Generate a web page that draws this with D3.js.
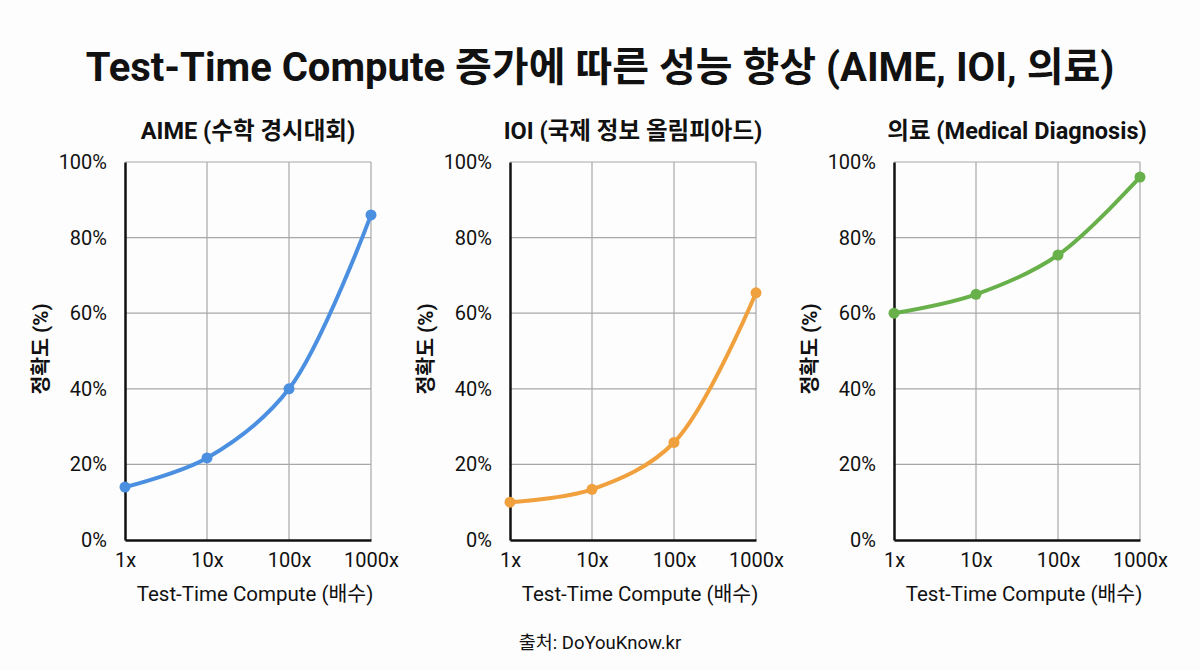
<!DOCTYPE html>
<html>
<head>
<meta charset="utf-8">
<script src="https://cdn.jsdelivr.net/npm/d3@7"></script>
<style>
  body { margin: 0; background: #fdfdfd; }
  svg { display: block; font-family: Roboto, "Noto Sans CJK KR", sans-serif; }
</style>
</head>
<body>
<div id="chart"></div>
<script>
const computeLevels = ['1x', '10x', '100x', '1000x'];
const yTicks = [0, 20, 40, 60, 80, 100];

const panelTitles = ['AIME (수학 경시대회)', 'IOI (국제 정보 올림피아드)', '의료 (Medical Diagnosis)'];
const aimeValues = [14, 21.7, 40, 86];
const ioiValues = [10, 13.4, 25.8, 65.4];
const medicalValues = [60, 65, 75.4, 96];
const seriesColors = ['#4a8fe0', '#f0a03c', '#68b04a'];

const W = 1200, H = 670;
const panelLeft = [125, 510, 894];
const panelWidth = 246;
const plotTop = 162, plotBottom = 540;

const svg = d3.select('#chart').append('svg')
  .attr('width', W)
  .attr('height', H);

svg.append('rect').attr('width', W).attr('height', H).attr('fill', '#fdfdfd');

svg.append('text')
  .attr('x', W / 2)
  .attr('y', 81)
  .attr('text-anchor', 'middle')
  .attr('font-size', 40)
  .attr('font-weight', 'bold')
  .attr('fill', '#111')
  .text('Test-Time Compute 증가에 따른 성능 향상 (AIME, IOI, 의료)');

const y = d3.scaleLinear().domain([0, 100]).range([plotBottom, plotTop]);

const allValues = [aimeValues, ioiValues, medicalValues];

allValues.forEach((values, i) => {
  const x = d3.scalePoint()
    .domain(computeLevels)
    .range([panelLeft[i], panelLeft[i] + panelWidth]);

  const g = svg.append('g');

  // grid
  g.selectAll('.hgrid')
    .data(yTicks.slice(1))
    .enter().append('line')
    .attr('x1', panelLeft[i])
    .attr('x2', panelLeft[i] + panelWidth)
    .attr('y1', d => y(d))
    .attr('y2', d => y(d))
    .attr('stroke', '#a8a8a8')
    .attr('stroke-width', 1.2);

  g.selectAll('.vgrid')
    .data(computeLevels.slice(1))
    .enter().append('line')
    .attr('x1', d => x(d))
    .attr('x2', d => x(d))
    .attr('y1', plotTop)
    .attr('y2', plotBottom)
    .attr('stroke', '#a8a8a8')
    .attr('stroke-width', 1.2);

  // axes
  const yAxis = g.append('g')
    .attr('transform', `translate(${panelLeft[i]},0)`)
    .call(d3.axisLeft(y).tickValues(yTicks).tickSize(0).tickPadding(18).tickFormat(d => d + '%'));
  yAxis.select('.domain').attr('stroke', '#111').attr('stroke-width', 2.5);
  yAxis.selectAll('text').attr('font-size', 20).attr('fill', '#111').attr('font-family', 'Roboto, sans-serif');

  const xAxis = g.append('g')
    .attr('transform', `translate(0,${plotBottom})`)
    .call(d3.axisBottom(x).tickSize(0).tickPadding(13));
  xAxis.select('.domain').attr('stroke', '#111').attr('stroke-width', 2.5);
  xAxis.selectAll('text').attr('font-size', 20).attr('fill', '#111').attr('font-family', 'Roboto, sans-serif');

  // labels
  const cx = panelLeft[i] + panelWidth / 2;
  g.append('text')
    .attr('x', cx)
    .attr('y', 139)
    .attr('text-anchor', 'middle')
    .attr('font-size', 23.5)
    .attr('font-weight', 'bold')
    .attr('fill', '#111')
    .text(panelTitles[i]);

  g.append('text')
    .attr('x', cx + 7)
    .attr('y', 601)
    .attr('text-anchor', 'middle')
    .attr('font-size', 20.5)
    .attr('fill', '#111')
    .text('Test-Time Compute (배수)');

  g.append('text')
    .attr('transform', `translate(${panelLeft[i] - 77},${(plotTop + plotBottom) / 2 - 2}) rotate(-90)`)
    .attr('text-anchor', 'middle')
    .attr('font-size', 20.5)
    .attr('font-weight', 'bold')
    .attr('fill', '#111')
    .text('정확도 (%)');

  // series
  const line = d3.line()
    .x((d, j) => x(computeLevels[j]))
    .y(d => y(d))
    .curve(d3.curveCatmullRom);

  g.append('path')
    .datum(values)
    .attr('d', line)
    .attr('fill', 'none')
    .attr('stroke', seriesColors[i])
    .attr('stroke-width', 4)
    .attr('stroke-linecap', 'round');

  g.selectAll('.pt')
    .data(values)
    .enter().append('circle')
    .attr('cx', (d, j) => x(computeLevels[j]))
    .attr('cy', d => y(d))
    .attr('r', 5.5)
    .attr('fill', seriesColors[i]);
});

svg.append('text')
  .attr('x', W / 2)
  .attr('y', 649)
  .attr('text-anchor', 'middle')
  .attr('font-size', 18.5)
  .attr('fill', '#111')
  .text('출처: DoYouKnow.kr');
</script>
</body>
</html>
